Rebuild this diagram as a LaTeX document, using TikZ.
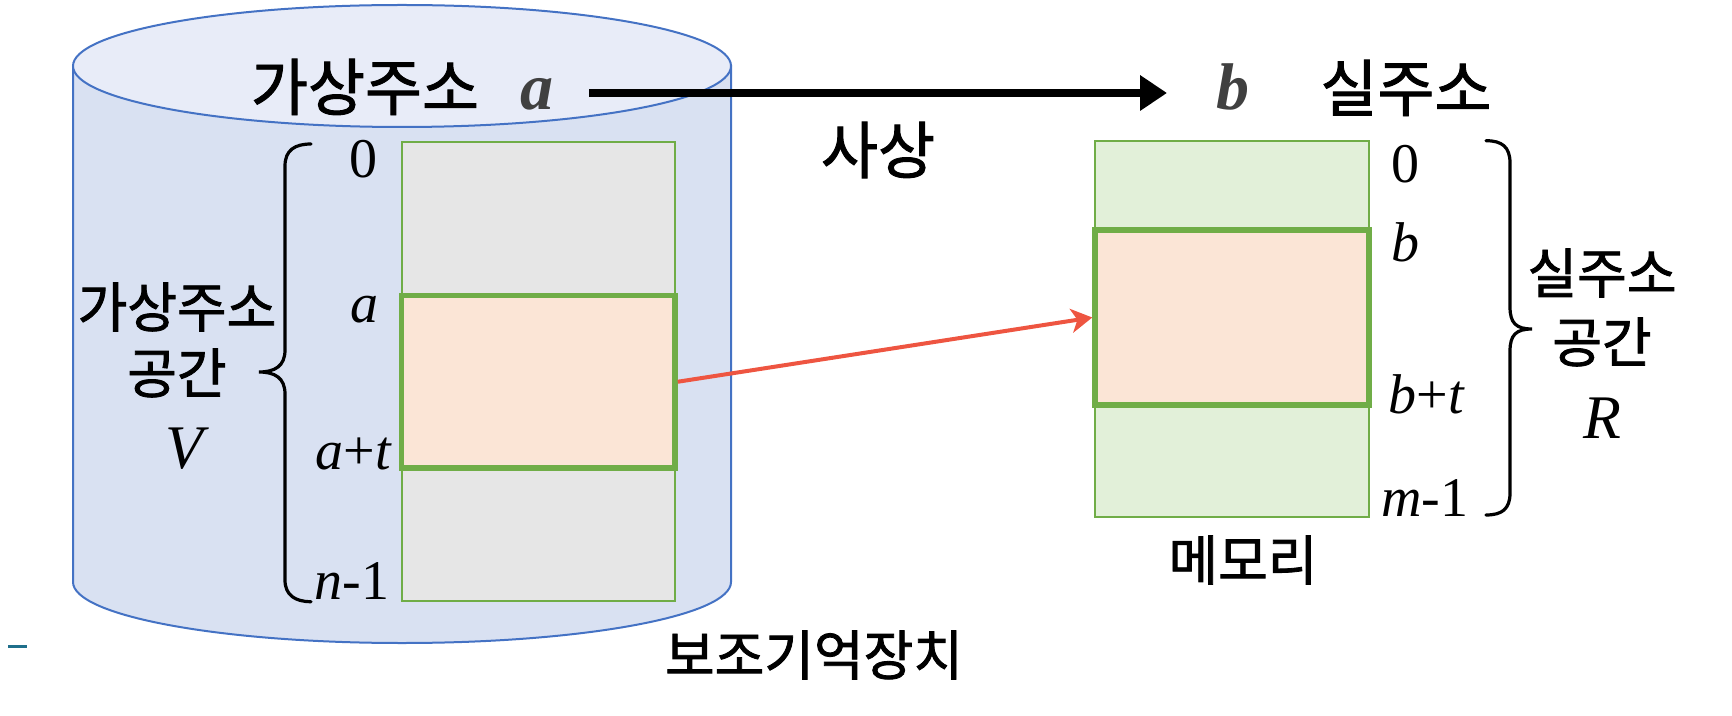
\documentclass[tikz,border=0pt]{standalone}
\usepackage{fontspec}
\setmainfont{Liberation Serif}
\newfontfamily\kr[FakeBold=1.5]{Noto Sans CJK KR}
\usetikzlibrary{arrows.meta,fit}
\definecolor{cylside}{HTML}{D9E1F2}
\definecolor{cyltop}{HTML}{E8ECF8}
\definecolor{cylline}{HTML}{4472C4}
\definecolor{grayfill}{HTML}{E6E6E6}
\definecolor{gline}{HTML}{70AD47}
\definecolor{orfill}{HTML}{FBE5D6}
\definecolor{grfill}{HTML}{E2F0D9}
\definecolor{redarrow}{HTML}{EE5541}
\definecolor{dgray}{HTML}{404040}
\definecolor{dashteal}{HTML}{1F6F8B}
\begin{document}
\begin{tikzpicture}[x=0.5pt,y=-0.5pt,
  krbig/.style={font=\kr\fontsize{31}{36}\selectfont, inner sep=0pt},
  krmid/.style={font=\kr\fontsize{27}{32}\selectfont, inner sep=0pt},
  lbl/.style={font=\fontsize{28}{32}\selectfont, inner sep=0pt, anchor=base},
  varbig/.style={font=\fontsize{31}{36}\selectfont\itshape, inner sep=0pt, anchor=base},
  boldvar/.style={font=\fontsize{33}{36}\selectfont\bfseries\itshape, text=dgray, inner sep=0pt, anchor=base},
  memthin/.style={draw=gline, line width=1pt, inner sep=0pt},
  memthick/.style={draw=gline, line width=2.75pt, fill=orfill, inner sep=0pt},
  bracepath/.style={line width=1.6pt, line cap=round},
]
\useasboundingbox (0,0) rectangle (1732,716);
% cylinder (secondary storage)
\path[fill=cylside, draw=cylline, line width=1pt] (73,66) -- (73,582)
  arc[start angle=180, end angle=0, x radius=329, y radius=61] -- (731,66) -- cycle;
\draw[fill=cyltop, draw=cylline, line width=1pt] (402,66) ellipse[x radius=329, y radius=61];
% memory blocks
\node[memthin, fill=grayfill, fit={(401.7,141.7)(675,600.7)}] (vm) {};
\node[memthick, fit={(401.7,295.5)(675,468)}] (vo) {};
\node[memthin, fill=grfill, fit={(1095,140.7)(1369,516.7)}] (rm) {};
\node[memthick, fit={(1095,230)(1369,405)}] (ro) {};
% top texts
\node[krbig] (vaddr) at (365,87) {가상주소};
\node[boldvar] (va) at (537,110) {a};
\node[boldvar] (pb) at (1233,110) {b};
\node[krbig] (paddr) at (1406,88) {실주소};
\node[krbig] (map) at (878,150) {사상};
\coordinate (m1) at (589,93);
\coordinate (m2) at (1167,93);
\draw[line width=3.6pt, -{Triangle[length=13.5pt,width=17pt]}] (m1) -- (m2);
% mapping arrow
\draw[redarrow, line width=2pt, -{Stealth[length=10.5pt,width=12pt,inset=3pt]}] (vo.east) -- (ro.west);
% left labels
\node[lbl] (l0) at (363.5,178) {0};
\node[lbl] (la) at (364.5,322) {\itshape a};
\node[lbl] (lat) at (353,469) {{\itshape a}+{\itshape t}};
\node[lbl] (ln) at (352,599) {{\itshape n}-1};
% right labels
\node[lbl] (r0) at (1405,183) {0};
\node[lbl] (rb) at (1405,262) {\itshape b};
\node[lbl] (rbt) at (1426,413) {{\itshape b}+{\itshape t}};
\node[lbl] (rm1) at (1425,516) {{\itshape m}-1};
% space labels
\node[krmid] (vs1) at (177,307) {가상주소};
\node[krmid] (vs2) at (177,373) {공간};
\node[varbig] (vV) at (184,468) {V};
\node[krmid] (rs1) at (1602,273) {실주소};
\node[krmid] (rs2) at (1602,342) {공간};
\node[varbig] (rR) at (1602,438) {R};
\node[krmid] (sec) at (814,655) {보조기억장치};
\node[krmid] (mem) at (1243,560) {메모리};
% braces
\draw[bracepath] (311,144) .. controls (295,144) and (285,150) .. (285,166) -- (285,350)
  .. controls (285,366) and (275,372) .. (259,372)
  .. controls (275,372) and (285,378) .. (285,394) -- (285,580)
  .. controls (285,595) and (295,601.7) .. (311,601.7);
\draw[bracepath] (1486,140.7) .. controls (1502,140.7) and (1510,147) .. (1510,163) -- (1510,307)
  .. controls (1510,323) and (1516,329) .. (1532,329)
  .. controls (1516,329) and (1510,335) .. (1510,351) -- (1510,493)
  .. controls (1510,509) and (1502,515) .. (1486,515);
% small mark
\draw[dashteal, line width=1.5pt] (8,646) -- (27,646);
\end{tikzpicture}
\end{document}
